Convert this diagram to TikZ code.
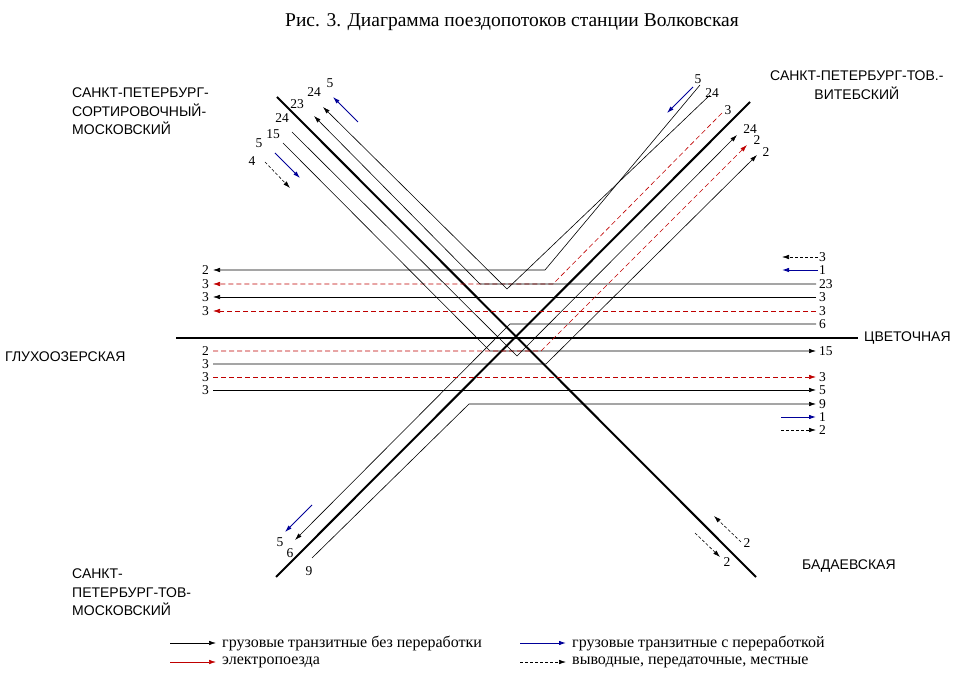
\documentclass[tikz,border=0pt]{standalone}
\usepackage{fontspec}
\setmainfont{Liberation Serif}
\newfontfamily\stfont{Liberation Sans}
\usetikzlibrary{arrows.meta}
\begin{document}
\begin{tikzpicture}[x=1pt,y=-1pt,
  trk/.style={line width=0.6pt,black},
  main/.style={line width=2pt,black},
  arr/.style={-{Latex[length=7pt,width=4.5pt]}},
  el/.style={trk,red!75!black,dash pattern=on 5pt off 3pt},
  blu/.style={trk,blue!60!black,line width=0.9pt},
  loc/.style={trk,dash pattern=on 3pt off 2pt},
  num/.style={font=\fontsize{13.5}{13.5}\selectfont,inner sep=0pt},
  st/.style={font=\stfont\fontsize{14}{18.5}\selectfont,align=left,inner sep=0pt},
  lg/.style={font=\fontsize{16}{16}\selectfont,anchor=west,inner sep=0pt}]
\useasboundingbox (0,0) rectangle (978,684);
\node[font=\fontsize{19.5}{20}\selectfont] (title) at (512,22) {Рис. 3. Диаграмма поездопотоков станции Волковская};
% main tracks
\coordinate (Atop) at (277,97); \coordinate (Abot) at (756,577);
\coordinate (Btop) at (750,102); \coordinate (Bbot) at (276,577);
\coordinate (Hl) at (176,338); \coordinate (Hr) at (858,338);
\draw[main] (Atop) -- (Abot);
\draw[main] (Bbot) -- (Btop);
\draw[main] (Hl) -- (Hr);
% station names
\node[st,anchor=north west] (s1) at (72,88) {САНКТ-ПЕТЕРБУРГ-\\СОРТИРОВОЧНЫЙ-\\МОСКОВСКИЙ};
\node[st,anchor=north west,align=center] (s2) at (770,71) {САНКТ-ПЕТЕРБУРГ-ТОВ.-\\ВИТЕБСКИЙ};
\node[st,anchor=west] (s3) at (5,357) {ГЛУХООЗЕРСКАЯ};
\node[st,anchor=west] (s4) at (864,338) {ЦВЕТОЧНАЯ};
\node[st,anchor=north west] (s5) at (72,569) {САНКТ-\\ПЕТЕРБУРГ-ТОВ-\\МОСКОВСКИЙ};
\node[st,anchor=west] (s6) at (802,566) {БАДАЕВСКАЯ};
% westbound (left ends)
\coordinate (W270) at (213,270); \coordinate (W284) at (213,284);
\coordinate (W297) at (213,297); \coordinate (W311) at (213,311);
\foreach \y/\t in {270/2,284/3,297/3,311/3} \node[num,anchor=east] (lw\y) at (209,\y) {\t};
\draw[trk,arr] (700,85) -- (545,270) -- (W270);
\draw[el,arr] (722,113) -- (553,284) -- (W284);
\draw[trk,arr] (816,297) -- (W297);
\draw[el,arr] (816,311) -- (W311);
\draw[trk,arr] (816,284) -- (480,284) -- (314,116);
\draw[trk,arr] (710,95) -- (507,289) -- (323,107);
\draw[trk,arr] (816,324) -- (510,324) -- (295,540);
\foreach \y/\t in {284/23,297/3,311/3,324/6} \node[num,anchor=west] (re\y) at (819,\y) {\t};
\draw[loc,arr] (818,257) -- (782,257); \node[num,anchor=west] (r257) at (819,257) {3};
\draw[blu,arr] (818,270) -- (782,270); \node[num,anchor=west] (r270) at (819,270) {1};
% eastbound
\foreach \y/\t in {351/2,364/3,377/3,390/3} \node[num,anchor=east] (le\y) at (209,\y) {\t};
\draw[trk,arr] (283,143) -- (490,351) -- (816,351);
\draw[el,arr] (213,351) -- (541,351) -- (747,145);
\draw[trk,arr] (213,364) -- (546,364) -- (757,155);
\draw[trk,arr] (292,132) -- (517,356) -- (737,135);
\draw[el,arr] (213,377) -- (816,377);
\draw[trk,arr] (213,390) -- (816,390);
\draw[trk,arr] (312,558) -- (469,404) -- (816,404);
\draw[blu,arr] (781,417) -- (816,417);
\draw[loc,arr] (781,430) -- (816,430);
\foreach \y/\t in {351/15,377/3,390/5,404/9,417/1,430/2} \node[num,anchor=west] (rl\y) at (819,\y) {\t};
% NW short arrows and labels
\draw[blu,arr] (358,122) -- (333,97);
\draw[blu,arr] (275,153) -- (300,178);
\draw[loc,arr] (265,162) -- (290,188);
\node[num] (n1) at (330,83) {5};
\node[num] (n2) at (314,92) {24};
\node[num] (n3) at (297,104) {23};
\node[num] (n4) at (282,118) {24};
\node[num] (n5) at (273,134) {15};
\node[num] (n6) at (259,143) {5};
\node[num] (n7) at (252,161) {4};
% NE
\draw[blu,arr] (693,87) -- (667,113);
\node[num] (e1) at (698,79) {5};
\node[num] (e2) at (712,93) {24};
\node[num] (e3) at (728,110) {3};
\node[num] (e4) at (750,129) {24};
\node[num] (e5) at (757,140) {2};
\node[num] (e6) at (766,152) {2};
% SW
\draw[blu,arr] (312,505) -- (285,532);
\node[num] (w1) at (280,542) {5};
\node[num] (w2) at (290,553) {6};
\node[num] (w3) at (309,571) {9};
% SE
\draw[loc,arr] (741,542) -- (714,516);
\draw[loc,arr] (695,533) -- (720,557);
\node[num] (x1) at (747,543) {2};
\node[num] (x2) at (727,562) {2};
% legend
\draw[trk,arr] (170,643) -- (216,643); \node[lg] (g1) at (222,643) {грузовые транзитные без переработки};
\draw[trk,red!75!black,arr] (170,662) -- (216,662); \node[lg] (g2) at (222,662) {электропоезда};
\draw[blu,arr] (520,643) -- (566,643); \node[lg] (g3) at (572,643) {грузовые транзитные с переработкой};
\draw[loc,arr] (520,662) -- (566,662); \node[lg] (g4) at (572,662) {выводные, передаточные, местные};
\end{tikzpicture}
\end{document}
